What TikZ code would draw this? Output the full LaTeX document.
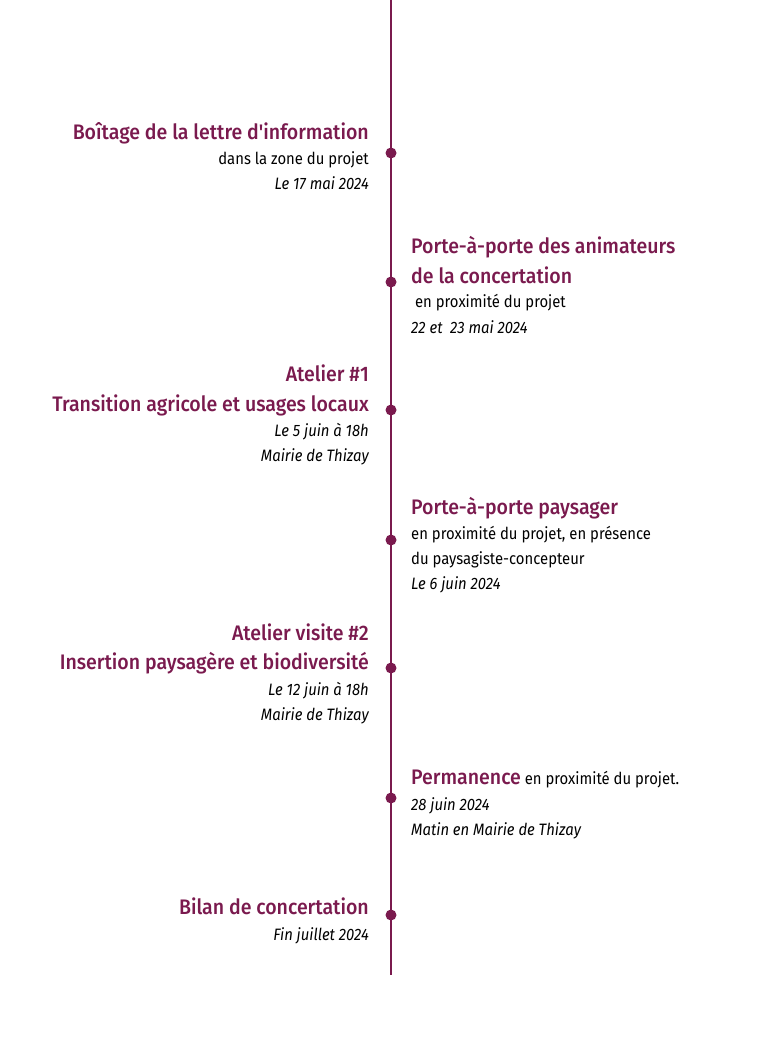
\documentclass[tikz,border=0pt]{standalone}
\usepackage{fontspec}
\setmainfont[FakeStretch=0.9]{Fira Sans}
\newfontfamily\titf[FakeStretch=0.93]{Fira Sans Medium}
\definecolor{plum}{HTML}{7A1A4E}
\begin{document}
\begin{tikzpicture}[x=1pt,y=-1pt,
  tl/.style={font=\titf\fontsize{21}{24}\selectfont,text=plum,inner sep=0},
  sl/.style={font=\fontsize{16.5}{20}\selectfont,text=black,inner sep=0},
  il/.style={font=\itshape\fontsize{16.5}{20}\selectfont,text=black,inner sep=0},
  dotn/.style={circle,fill=plum,minimum size=11pt,inner sep=0}]
\useasboundingbox (0,0) rectangle (781,1042);
\coordinate (top) at (391,0);
\coordinate (bot) at (391,975);
\draw[plum,line width=1.8pt] (top) -- (bot);
\foreach \n/\y in {d1/153,d2/282,d3/410,d4/540,d5/668,d6/798,d7/915}
  \node[dotn] (\n) at (391,\y) {};
% 1
\node[tl,anchor=base east] (a1) at (369,139) {Boîtage de la lettre d'information};
\node[sl,anchor=base east] (a2) at (369,164) {dans la zone du projet};
\node[il,anchor=base east] (a3) at (369,189) {Le 17 mai 2024};
% 2
\node[tl,anchor=base west] (b1) at (411,253) {Porte-à-porte des animateurs};
\node[tl,anchor=base west] (b2) at (411,283) {de la concertation};
\node[sl,anchor=base west] (b3) at (411,307) {\ en proximité du projet};
\node[il,anchor=base west] (b4) at (411,333) {22 et \ 23 mai 2024};
% 3
\node[tl,anchor=base east] (c1) at (369,381) {Atelier \#1};
\node[tl,anchor=base east] (c2) at (369,411) {Transition agricole et usages locaux};
\node[il,anchor=base east] (c3) at (369,436) {Le 5 juin à 18h};
\node[il,anchor=base east] (c4) at (369,461) {Mairie de Thizay};
% 4
\node[tl,anchor=base west] (e1) at (411,514) {Porte-à-porte paysager};
\node[sl,anchor=base west] (e2) at (411,539) {en proximité du projet, en présence};
\node[sl,anchor=base west] (e3) at (411,564) {du paysagiste-concepteur};
\node[il,anchor=base west] (e4) at (411,589) {Le 6 juin 2024};
% 5
\node[tl,anchor=base east] (f1) at (369,640) {Atelier visite \#2};
\node[tl,anchor=base east] (f2) at (369,669) {Insertion paysagère et biodiversité};
\node[il,anchor=base east] (f3) at (369,695) {Le 12 juin à 18h};
\node[il,anchor=base east] (f4) at (369,720) {Mairie de Thizay};
% 6
\node[anchor=base west,inner sep=0] (g1) at (411,784) {\titf\fontsize{21}{24}\selectfont\color{plum}Permanence\fontsize{16.5}{20}\rmfamily\selectfont\color{black}\ en proximité du projet.};
\node[il,anchor=base west] (g2) at (411,810) {28 juin 2024};
\node[il,anchor=base west] (g3) at (411,835) {Matin en Mairie de Thizay};
% 7
\node[tl,anchor=base east] (h1) at (369,914) {Bilan de concertation};
\node[il,anchor=base east] (h2) at (369,940) {Fin juillet 2024};
\end{tikzpicture}
\end{document}
